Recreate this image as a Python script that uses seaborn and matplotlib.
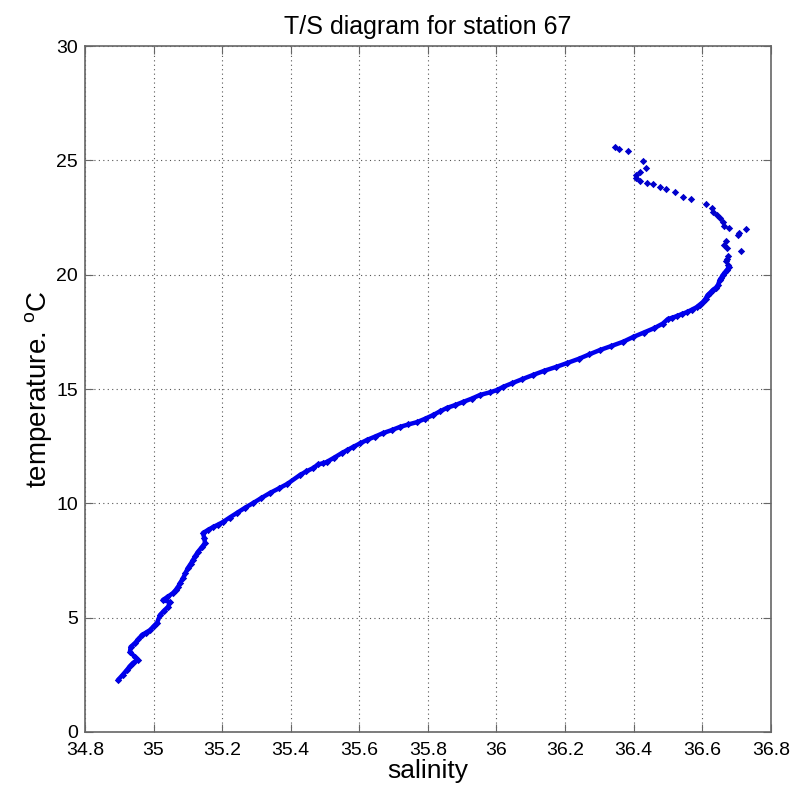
import pandas as pd
import seaborn as sns
import matplotlib
matplotlib.use('Agg')
import matplotlib.pyplot as plt

# T/S profile, station 67 (deep -> surface)
salinity = [34.896, 34.910, 34.922, 34.931, 34.940, 34.955, 34.946, 34.931, 34.933, 34.946,
            34.956, 34.966, 34.978, 34.990, 35.000, 35.010, 35.019, 35.030, 35.042, 35.048,
            35.027, 35.040, 35.057, 35.064, 35.071, 35.078, 35.086, 35.093, 35.100, 35.108,
            35.115, 35.122, 35.129, 35.140, 35.150, 35.148, 35.144, 35.158, 35.173, 35.188,
            35.202, 35.222, 35.243, 35.266, 35.290, 35.314, 35.339, 35.365, 35.390, 35.427,
            35.446, 35.465, 35.480, 35.495, 35.505, 35.527, 35.549, 35.565, 35.581, 35.602,
            35.622, 35.646, 35.669, 35.694, 35.718, 35.743, 35.768, 35.792, 35.815, 35.835,
            35.855, 35.880, 35.902, 35.928, 35.952, 35.980, 36.001, 36.019, 36.045, 36.075,
            36.106, 36.140, 36.175, 36.205, 36.240, 36.270, 36.301, 36.335, 36.370, 36.398,
            36.430, 36.460, 36.485, 36.500, 36.513, 36.526, 36.541, 36.555, 36.570, 36.584,
            36.593, 36.602, 36.610, 36.616, 36.624, 36.631, 36.640, 36.646, 36.651, 36.656,
            36.660, 36.667, 36.672, 36.678, 36.675, 36.669, 36.672, 36.675, 36.713, 36.672,
            36.663, 36.669, 36.704, 36.707, 36.727, 36.678, 36.663, 36.660, 36.651, 36.643,
            36.631, 36.628, 36.610, 36.567, 36.543, 36.520, 36.494, 36.476, 36.456, 36.438,
            36.418, 36.408, 36.406, 36.418, 36.436, 36.427, 36.383, 36.357, 36.345]
temperature = [2.27, 2.50, 2.71, 2.88, 3.02, 3.15, 3.28, 3.50, 3.72, 3.89,
               4.06, 4.24, 4.35, 4.46, 4.62, 4.77, 5.12, 5.30, 5.47, 5.68,
               5.77, 5.90, 6.08, 6.20, 6.34, 6.53, 6.73, 6.95, 7.17, 7.35,
               7.52, 7.70, 7.87, 8.07, 8.26, 8.48, 8.70, 8.83, 8.96, 9.07,
               9.18, 9.38, 9.58, 9.80, 10.01, 10.23, 10.45, 10.65, 10.85, 11.24,
               11.40, 11.54, 11.70, 11.76, 11.81, 12.00, 12.20, 12.33, 12.46, 12.62,
               12.77, 12.92, 13.07, 13.20, 13.34, 13.45, 13.55, 13.70, 13.86, 14.02,
               14.17, 14.30, 14.43, 14.58, 14.74, 14.85, 14.95, 15.09, 15.25, 15.43,
               15.61, 15.80, 15.97, 16.13, 16.32, 16.51, 16.70, 16.88, 17.07, 17.27,
               17.47, 17.66, 17.86, 18.06, 18.12, 18.19, 18.28, 18.36, 18.47, 18.58,
               18.69, 18.80, 18.95, 19.11, 19.22, 19.33, 19.43, 19.54, 19.76, 19.87,
               19.98, 20.10, 20.20, 20.33, 20.42, 20.60, 20.70, 20.81, 21.03, 21.16,
               21.29, 21.47, 21.73, 21.82, 21.99, 22.04, 22.12, 22.30, 22.47, 22.61,
               22.74, 22.91, 23.09, 23.30, 23.39, 23.61, 23.74, 23.83, 23.96, 24.00,
               24.09, 24.22, 24.35, 24.49, 24.66, 24.97, 25.40, 25.49, 25.58]

df = pd.DataFrame({'salinity': salinity, 'temperature': temperature})
dense = df[df['temperature'] < 20.4]

sns.set_style('white')
plt.rcParams['font.family'] = ['Liberation Sans', 'DejaVu Sans']
plt.rcParams['text.color'] = 'black'
plt.rcParams['axes.labelcolor'] = 'black'

fig = plt.figure(figsize=(8.02, 7.91), dpi=100)
ax = fig.add_axes([0.106, 0.0746, 0.855, 0.8672])

# dense part of the cast looks like a solid trace
sns.lineplot(x='salinity', y='temperature', data=dense, sort=False, estimator=None,
             color='#0000ee', linewidth=3.2, ax=ax)
sns.scatterplot(x='salinity', y='temperature', data=df, color='#0000cc',
                marker='D', s=14, linewidth=0, ax=ax)

ax.set_xlim(34.8, 36.8)
ax.set_ylim(0, 30)
ax.set_xticks([34.8, 35, 35.2, 35.4, 35.6, 35.8, 36, 36.2, 36.4, 36.6, 36.8])
ax.set_xticklabels(['34.8', '35', '35.2', '35.4', '35.6', '35.8', '36', '36.2', '36.4', '36.6', '36.8'])
ax.set_yticks([0, 5, 10, 15, 20, 25, 30])
ax.grid(True, color='#555555', linestyle=(0, (1, 3)), linewidth=0.8)
ax.tick_params(direction='in', length=6, color='#666666', labelsize=14,
               labelcolor='black', top=True, right=True, bottom=True, left=True)
ax.tick_params(axis='x', pad=7.5)
ax.tick_params(axis='y', pad=5)
for sp in ax.spines.values():
    sp.set_color('#666666')
    sp.set_linewidth(1.2)

ax.set_xlabel('salinity', fontsize=19, labelpad=0)
ax.set_ylabel('temperature. $^{\\mathregular{o}}$C', fontsize=20, labelpad=1)
ax.set_title('T/S diagram for station 67', fontsize=18, pad=9)

fig.savefig('out.png', dpi=100)
